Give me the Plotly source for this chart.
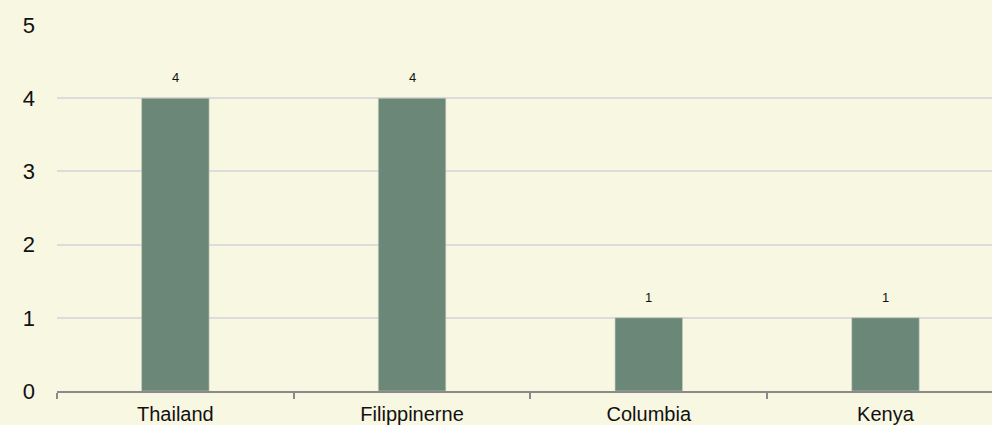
import plotly.graph_objects as go

categories = ["Thailand", "Filippinerne", "Columbia", "Kenya"]
values = [4, 4, 1, 1]
y_ticks = [0, 1, 2, 3, 4, 5]

bg = "#f8f7e2"
bar_color = "#6b8777"

fig = go.Figure()
fig.add_trace(go.Bar(
    x=categories, y=values,
    marker=dict(color=bar_color, line=dict(color="#c9cfc0", width=0.6)),
    width=0.285,
    hoverinfo="skip",
))

for c, v in zip(categories, values):
    fig.add_annotation(x=c, y=v, text=str(v), showarrow=False,
                       yanchor="bottom", yshift=11,
                       font=dict(family="Liberation Sans, Arial", size=13, color="#111"))

fig.update_layout(
    width=992, height=425,
    paper_bgcolor=bg, plot_bgcolor=bg,
    margin=dict(l=57, r=0, t=25, b=34),
    showlegend=False,
    bargap=0.7,
    font=dict(family="Liberation Sans, Arial", color="#111"),
)
fig.update_xaxes(
    range=[-0.5, 3.45],
    showgrid=False,
    showline=True, linecolor="#8a8a8a", linewidth=2,
    ticks="outside", tickson="boundaries", ticklen=6, tickcolor="#8a8a8a", tickwidth=2,
    tickfont=dict(size=20, color="#111"),
    ticklabelstandoff=4,
    fixedrange=True,
)
fig.update_yaxes(
    range=[0, 5], tickvals=y_ticks,
    showgrid=True, gridcolor="#dcdcdc", gridwidth=2,
    zeroline=False, showline=False,
    tickfont=dict(size=22, color="#111"),
    ticklabelstandoff=21,
    fixedrange=True,
)

fig.write_html(
    "out.html",
    config={"displayModeBar": False},
    post_script="document.body.style.margin='0';document.body.style.overflow='hidden';document.body.style.background='" + bg + "';",
)
